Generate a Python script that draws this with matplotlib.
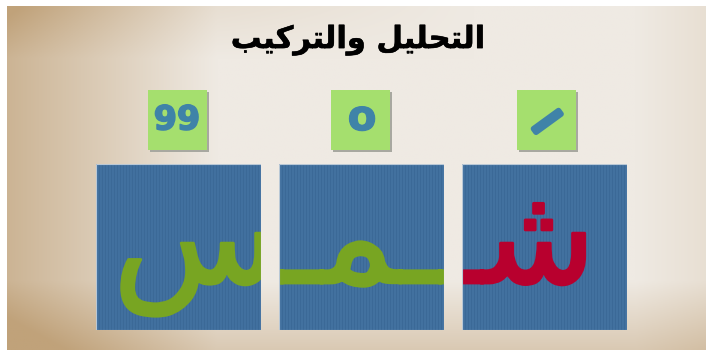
import numpy as np
import matplotlib.pyplot as plt
import matplotlib.patheffects as pe
from matplotlib.patches import Rectangle

W, H = 711, 356

# title "التحليل والتركيب" in presentation forms (logical order)
title_words = ["\uFE8D\uFEDF\uFE98\uFEA4\uFEE0\uFEF4\uFEDE",
               "\uFEED\uFE8D\uFEDF\uFE98\uFEAE\uFEDB\uFEF4\uFE90"]
TAT = "\u0640"
# letter pieces of "شمس", right to left
pieces = ["\uFEB7", "\uFEE4", "\uFEB2"]
piece_colors = ["#b8002e", "#78a522", "#78a522"]
marks = ["\u2014", "o", "99"]

blue_x = [462, 279, 96]
green_x = [517, 331, 148]
mark_blue = "#3f83a8"


def px_axes(x0, y0, x1, y1):
    a = fig.add_axes([x0 / W, 1 - y1 / H, (x1 - x0) / W, (y1 - y0) / H])
    a.set_xlim(x0, x1)
    a.set_ylim(y1, y0)
    a.axis("off")
    return a


def fat(w, c):
    return [pe.withStroke(linewidth=w, foreground=c, capstyle="round",
                          joinstyle="round")]


fig = plt.figure(figsize=(W / 100, H / 100), dpi=100)
fig.patch.set_facecolor("white")
ax = px_axes(0, 0, W, H)

# parchment background
yy, xx = np.mgrid[0:1:180j, 0:1:360j]
t = 0.75 * np.clip(0.3 - xx, 0, None) / 0.3
t += 0.45 * np.clip(yy - 0.8, 0, None) / 0.2
t += 0.3 * np.clip(0.15 - yy, 0, None) / 0.15 * np.clip(1 - xx * 1.5, 0, 1)
t += 0.15 * np.clip(xx - 0.9, 0, None) / 0.1
t = np.clip(t, 0, 1)
light = np.array([239, 234, 227]) / 255
dark = np.array([192, 162, 122]) / 255
bg = light * (1 - t[..., None]) + dark * t[..., None]
ax.imshow(bg, extent=(7, 706, 350, 6), aspect="auto", zorder=0)

ax.text(358, 40, (title_words[0] + " " + title_words[1])[::-1],
        ha="center", va="center", fontsize=22, fontweight="bold",
        family="DejaVu Sans", color="black", path_effects=fat(0.4, "black"))

stripes = np.tile((np.arange(165) % 3 == 0)[None, :], (166, 1)).astype(float)
blue_a = np.array([66, 113, 159]) / 255
blue_b = np.array([59, 105, 151]) / 255

for i in range(3):
    # green mark tiles with shadow
    gx = green_x[i]
    ax.add_patch(Rectangle((gx + 2, 92), 59, 60, facecolor="#a8a8a0", zorder=1))
    ax.add_patch(Rectangle((gx, 90), 59, 60, facecolor="#a5df6e", zorder=2))
    if i == 0:
        ax.text(gx + 30, 121, marks[0], ha="center", va="center",
                rotation=36, rotation_mode="anchor", fontsize=25,
                fontweight="bold", color=mark_blue, zorder=3,
                path_effects=fat(4, mark_blue))
    elif i == 1:
        ax.text(gx + 31, 118, marks[1], ha="center", va="center",
                fontsize=30, fontweight="bold", color=mark_blue, zorder=3,
                path_effects=fat(1, mark_blue))
    else:
        ax.text(gx + 29, 120, marks[2], ha="center", va="center",
                fontsize=24, fontweight="bold", color=mark_blue, zorder=3,
                path_effects=fat(1.2, mark_blue))

    # blue letter tiles
    x0 = blue_x[i]
    ta = px_axes(x0, 164, x0 + 165, 330)
    img = blue_a * (1 - stripes[..., None]) + blue_b * stripes[..., None]
    ta.imshow(img, extent=(x0, x0 + 165, 330, 164), aspect="auto", zorder=0)
    ta.add_patch(Rectangle((x0, 164), 165, 166, facecolor="none",
                           edgecolor="#b9c8d6", lw=0.8, zorder=3))
    if i == 0:
        s, xp, ha = TAT * 10 + pieces[0], x0 + 134, "right"
    elif i == 1:
        s, xp, ha = TAT * 10 + pieces[1] + TAT * 10, x0 + 82, "center"
    else:
        s, xp, ha = pieces[2] + TAT * 10, x0 + 17, "left"
    ta.text(xp, 283, s, ha=ha, va="baseline", fontsize=98,
            family="DejaVu Sans", color=piece_colors[i], zorder=2,
            clip_on=True, path_effects=fat(2, piece_colors[i]))

fig.savefig("out.png", dpi=100, facecolor="white")
